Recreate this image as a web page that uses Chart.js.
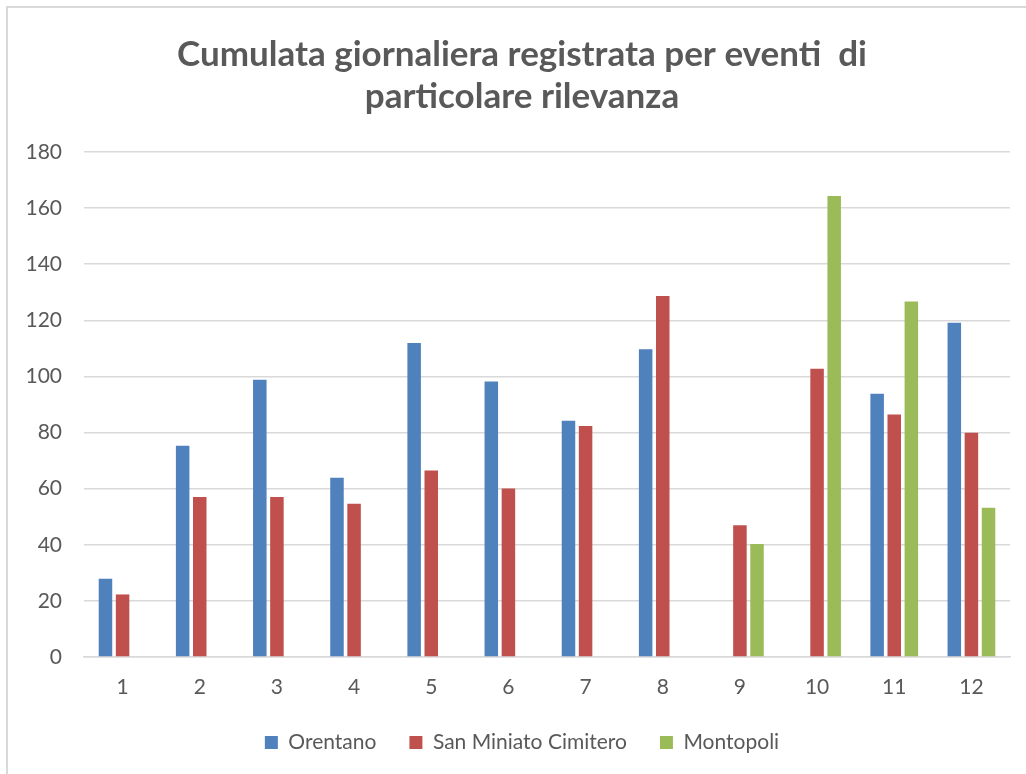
<!DOCTYPE html>
<html>
<head>
<meta charset="utf-8">
<script src="https://cdn.jsdelivr.net/npm/chart.js@4.4.0/dist/chart.umd.min.js"></script>
<style>
  html, body { margin: 0; padding: 0; background: #fff; overflow: hidden; }
  #wrap { position: absolute; left: 0; top: 0; width: 1026px; height: 774px; }
  #frame {
    position: absolute; left: 6px; top: 6px; width: 1100px; height: 900px;
    border-left: 2px solid #d9d9d9; border-top: 2px solid #d9d9d9;
    pointer-events: none;
  }
</style>
</head>
<body>
<div id="wrap"><canvas id="chart" width="1026" height="774"></canvas></div>
<div id="frame"></div>
<script>
const giorni = ["1", "2", "3", "4", "5", "6", "7", "8", "9", "10", "11", "12"];
const orentano = [27.9, 75.3, 98.8, 63.9, 111.9, 98.2, 84.2, 109.7, null, null, 93.8, 119.1];
const sanMiniato = [22.3, 57.0, 57.0, 54.6, 66.5, 60.1, 82.3, 128.7, 47.0, 102.7, 86.4, 79.9];
const montopoli = [null, null, null, null, null, null, null, null, 40.3, 164.3, 126.7, 53.2];
const titolo = ["Cumulata giornaliera registrata per eventi  di", "particolare rilevanza"];

const grigio = "#595959";
const font = "Lato, 'Open Sans', sans-serif";

const ctx = document.getElementById("chart");

const chart = new Chart(ctx, {
  type: "bar",
  data: {
    labels: giorni,
    datasets: [
      { label: "Orentano", data: orentano, backgroundColor: "#4F81BD" },
      { label: "San Miniato Cimitero", data: sanMiniato, backgroundColor: "#C0504D" },
      { label: "Montopoli", data: montopoli, backgroundColor: "#9BBB59" },
    ],
  },
  options: {
    responsive: false,
    animation: false,
    categoryPercentage: 0.665,
    barPercentage: 0.79,
    layout: {
      padding: { left: 18, right: 0, top: 0, bottom: 11 },
    },
    scales: {
      x: {
        afterFit: function (scale) {
          scale.height = 42;
        },
        grid: { display: false, drawTicks: false },
        border: { display: true, color: "#d9d9d9", width: 1.5 },
        ticks: {
          color: grigio,
          padding: 18,
          font: { family: font, size: 21 },
        },
      },
      y: {
        min: 0,
        max: 180,
        afterFit: function (scale) {
          scale.width = 66;
        },
        grid: { color: "#d9d9d9", lineWidth: 1.5, drawTicks: false },
        border: { display: false },
        ticks: {
          stepSize: 20,
          color: grigio,
          padding: 22,
          font: { family: font, size: 21 },
        },
      },
      // asse vuoto a destra, solo per lasciare margine
      y2: {
        position: "right",
        display: true,
        afterFit: function (scale) {
          scale.width = 16;
        },
        grid: { display: false },
        border: { display: false },
        ticks: { display: false },
      },
    },
    plugins: {
      title: {
        display: true,
        text: titolo,
        color: grigio,
        font: { family: font, size: 35, weight: "bold", lineHeight: "42px" },
        padding: { top: 34, bottom: 34 },
      },
      legend: {
        display: true,
        position: "bottom",
        labels: {
          color: grigio,
          boxWidth: 13,
          boxHeight: 13,
          padding: 33,
          font: { family: font, size: 21 },
        },
      },
      tooltip: { enabled: false },
    },
  },
});
</script>
</body>
</html>
